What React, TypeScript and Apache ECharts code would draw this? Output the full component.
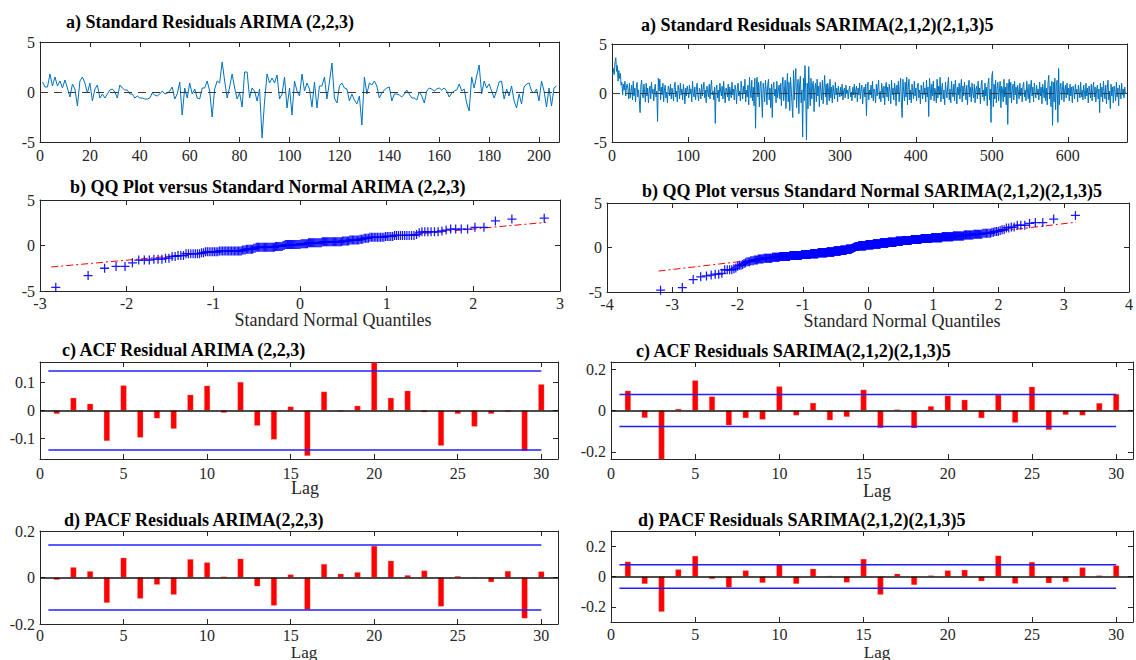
import React, { useEffect, useRef } from "react";
import * as echarts from "echarts";

// ---------- DATA ----------
const residArima = [
  1.0, 0.5, 0.5, 1.8, 0.6, 1.5, 0.6, 1.1, 0.4, 1.2,
  0.4, -0.5, 0.8, 0.3, -1.4, 1.1, 1.5, 0.9, -0.1, 0.9,
  -0.9, 0.3, 0.7, -0.6, -0.2, -0.6, -0.2, 0.2, 0.3, 0.0,
  -0.6, 0.7, 0.4, 0.2, 0.2, -0.2, -0.2, -0.6, -0.4, -0.6,
  -0.6, -0.7, -0.7, -0.6, -0.1, -0.3, -0.4, -0.2, 0.1, -0.2,
  -0.1, 0.1, 0.5, -0.7, -0.2, 1.0, -2.3, 0.4, -0.6, 0.9,
  -0.2, 0.3, -0.6, -0.7, 0.4, 0.4, 1.1, 0.1, -2.5, 0.3,
  1.1, 0.9, 3.0, 1.1, -0.6, 0.5, 1.8, 0.4, -0.7, -0.1,
  -1.5, 2.0, 2.0, -0.6, 0.4, 0.1, -0.9, 0.3, -4.6, -0.9,
  1.8, 0.9, 1.4, 0.9, 1.7, -0.7, -0.2, 1.5, -1.6, 0.4,
  -2.3, 1.1, 0.1, -0.4, 1.8, 0.1, 0.9, 0.3, -1.5, 1.0,
  -1.6, 0.6, 0.6, 1.5, -0.7, 1.0, 2.9, -0.6, -1.1, 0.6,
  0.9, 0.4, 0.3, -0.9, -0.2, -0.8, -1.2, -0.4, -3.3, 1.5,
  -0.2, 0.9, 0.7, 1.1, 0.6, -0.6, -0.1, 0.2, 0.4, 0.5,
  -0.9, -0.2, -0.2, -0.3, -0.5, -0.2, 0.2, -0.2, -0.6, -0.6,
  -0.8, 0.0, -0.4, -1.1, 0.1, 0.4, 0.3, 0.1, 0.3, 0.4,
  0.2, 0.4, 0.1, -0.5, -0.1, 0.1, 0.2, 0.8, 0.1, 0.3,
  -1.1, -1.9, 1.5, 0.4, 1.6, 2.7, -0.2, 1.1, 0.4, 0.8,
  0.1, -0.6, 0.1, 1.0, 1.1, -0.7, 0.3, -0.4, 0.6, -0.9,
  -1.6, -0.2, -1.2, 0.5, 0.8, 0.9, 0.1, -0.1, 0.3, -0.9,
  1.1, 0.1, -1.5, 0.4, -1.4, 0.4, 0.6,
];

const residSarima = [
  1.8, 2.5, 1.9, 3.2, 3.6, 2.2, 2.8, 1.2, 2.3, 1.5, 2.0, 0.8, 1.1, -0.2, 0.9, 0.3, 1.2, -0.3, 0.6, 0.9,
  0.4, -0.6, 1.0, -0.5, 0.2, 0.8, -0.7, 1.2, -0.3, 0.5, -0.9, 0.6, 1.1, -0.4, 0.3, -0.8, -2.0, 0.7, 1.3, -0.2,
  -0.5, 0.9, 0.1, -0.9, 1.0, -0.3, 0.5, -1.0, 0.2, 0.7, -0.6, 1.1, -0.1, 0.4, -0.8, 0.3, 0.9, -0.4, 0.2, -2.9,
  1.5, 0.2, 1.4, -0.7, 0.6, -0.2, 1.0, -0.9, 0.3, 0.8, -0.5, 0.1, -1.0, 0.7, 0.4, -0.3, 0.9, -0.6, 0.5, 0.0,
  -0.8, 0.6, 1.1, -0.4, 0.2, -0.9, 0.8, 0.3, -0.6, 1.0, -0.2, 0.4, -0.7, 0.9, 0.1, -1.1, 0.5, -0.3, 0.7, 0.2,
  -0.5, 0.8, -0.1, 0.4, -0.9, 1.2, 0.0, -0.4, 0.6, -0.7, 0.3, 1.0, -0.2, -0.8, 0.5, 0.2, -0.6, 0.9, -0.3, 0.4,
  1.1, -0.5, 0.3, -1.0, 0.7, 0.1, -0.4, 0.9, -0.6, 0.5, 1.3, -0.2, 0.2, -0.7, 0.6, -3.1, 0.4, 0.8, -0.5, 0.3,
  -0.9, 1.0, 0.2, -0.3, 0.7, -0.6, 1.2, 0.0, -1.0, 0.5, 0.3, -0.4, 0.9, -0.8, 0.6, 0.1, -0.5, 1.1, -0.2, 0.4,
  -0.7, 0.8, 0.3, -1.1, 0.5, 1.0, -0.3, 0.2, -0.8, 1.2, 0.4, -0.6, 0.7, -0.1, 1.4, -0.9, 0.3, -0.4, 0.8, -1.2,
  1.6, 0.2, -0.5, 1.3, -0.8, 0.6, -1.3, 1.5, -3.6, 0.9, 1.6, -0.4, 1.1, -1.4, 0.7, 1.2, -0.6, -2.5, 1.0, 0.3,
  -0.9, 1.3, 0.2, -1.2, 0.8, 1.4, -0.7, 0.5, -1.5, 0.9, -2.5, 0.6, 1.1, -0.3, 0.4, -1.0, 1.2, -0.5, 0.3, 0.8,
  -0.6, 1.0, -1.3, 0.7, 1.6, -0.8, 0.2, 1.3, -1.6, 0.5, 2.0, -0.9, 1.1, -1.8, 1.6, 0.4, -1.2, -2.5, 2.3, -0.7,
  1.2, 2.5, -1.5, 0.6, 1.4, -2.1, 0.9, 1.7, -1.0, 0.3, -4.5, 1.5, -0.8, 2.8, 0.4, -4.8, 1.0, -1.6, 2.7, 0.2,
  -1.3, 1.5, -0.6, 0.8, 1.2, -1.9, 0.4, 1.0, -0.9, 1.4, -0.3, 0.7, -1.4, 1.1, 0.2, -0.7, 1.3, -1.1, 0.5, 1.8,
  -0.4, 0.9, -1.2, 1.0, 0.3, -0.8, 1.4, -0.5, 0.6, -1.0, 0.8, 0.1, -0.6, 1.1, -0.2, 0.5, -0.9, 0.7, 0.0, -0.4,
  0.6, -0.3, 0.9, -0.7, 0.2, 0.5, -0.5, 0.8, -0.1, 0.3, -0.6, 0.4, 0.7, -0.4, 0.1, -0.8, 0.6, -0.2, 0.9, -0.5,
  0.3, 0.7, -0.9, 0.5, -0.2, 1.0, -0.6, 0.4, 0.8, -1.1, 0.2, 0.6, -0.4, 0.9, -2.3, 0.5, 1.1, -0.7, 0.3, -0.2,
  0.8, -0.5, 1.2, -0.8, 0.4, 0.1, -1.0, 0.9, -0.3, 0.6, 1.3, -0.6, 0.2, -0.9, 1.0, 0.3, -0.5, 0.7, -1.2, 0.5,
  1.1, -0.4, 0.6, -0.8, 0.9, 0.2, -1.1, 1.3, -0.2, 0.5, -0.7, 1.0, 0.4, -1.3, 0.8, -0.1, 1.2, -0.9, 0.3, 1.5,
  -1.0, -2.5, 1.4, 0.2, -0.8, 1.1, -0.4, 1.6, -1.2, 0.6, 1.4, -0.7, 0.3, -1.0, 0.9, 0.1, -0.6, 1.2, -0.3, 0.5,
  -0.8, 0.7, 1.0, -0.5, 0.3, -1.1, 0.8, 0.2, -0.6, 1.1, -0.2, 0.5, -0.9, 1.3, -0.4, 0.6, -2.4, 1.5, 0.4, -0.7,
  0.9, -0.3, 1.2, -0.8, 0.5, 0.1, -1.0, 1.4, -0.5, 0.7, -0.2, 1.6, -0.9, 0.4, 1.0, -0.6, 0.3, -1.2, 1.1, 0.2,
  -0.5, 0.8, 1.6, -0.7, 0.4, -1.0, 1.2, 0.1, -0.4, 0.9, -0.8, 1.3, 0.3, -1.1, 0.6, -0.2, 1.0, -0.6, 0.5, 1.4,
  -0.9, 0.7, -0.3, 1.1, 0.2, -0.7, 0.8, -1.2, 0.5, 1.3, -0.4, 0.6, -0.9, 1.0, 0.0, -0.5, 0.9, -1.0, 0.4, 0.7,
  -0.6, 1.2, -0.2, 0.5, -1.1, 0.8, 1.3, -0.4, 0.3, -0.8, 1.0, -0.3, 0.6, -1.3, 0.9, 1.5, -0.7, 0.4, -3.0, 1.7,
  2.2, -1.4, 0.9, -0.6, 1.3, -1.0, 0.5, 1.1, -0.8, 0.2, 1.2, -1.5, 0.7, 0.3, -0.9, 1.4, -0.4, 0.6, -1.2, 1.0,
  -3.2, 0.8, 1.4, -0.5, 1.1, -1.0, 0.4, 0.9, -0.7, 1.2, -0.2, 0.6, -1.1, 0.8, 0.1, -0.6, 1.0, -0.3, 0.5, -0.9,
  0.7, 1.1, -0.4, 0.3, -0.8, 1.2, 0.2, -0.6, 0.9, -1.0, 0.5, 1.3, -0.3, 0.6, -0.9, 1.0, 0.0, -0.5, 0.8, -0.2,
  0.4, -0.7, 1.1, -0.3, 0.6, -1.1, 0.9, 0.2, -0.5, 1.3, -0.8, 0.5, -1.2, 1.0, 1.8, -0.6, 0.7, -1.4, 1.2, -3.3,
  1.1, -0.9, 1.5, -1.7, 0.8, 1.3, -3.0, 2.5, -1.2, 0.6, 1.0, -0.7, 0.4, 1.2, -0.9, 0.3, 0.8, -0.5, 1.0, -0.2,
  0.5, -0.8, 0.9, -0.3, 0.6, -1.0, 0.7, 0.2, -0.6, 0.9, -0.1, 0.4, -0.9, 0.8, 0.1, -0.5, 1.1, -0.4, 0.3, -0.7,
  0.8, 0.0, -0.6, 1.0, -0.3, 0.5, -1.0, 0.7, 0.2, -0.5, 0.9, -0.8, 0.4, 1.1, -0.4, 0.6, -0.9, 0.3, 0.8, -0.6,
  0.4, -2.0, 1.0, -0.4, 0.6, -0.9, 1.2, 0.1, -0.6, 0.8, -1.1, 0.5, 1.3, -0.7, 0.2, -1.6, 0.9, -0.3, 0.6, -1.0,
  0.7, 0.2, -0.8, 1.1, -0.4, 0.5, -1.3, 0.8, 0.1, -0.6, 1.0, -0.2, 0.4, -0.5, 0.6, -0.1, 0.0,
];

const lags = [1, 2, 3, 4, 5, 6, 7, 8, 9, 10, 11, 12, 13, 14, 15, 16, 17, 18, 19, 20, 21, 22, 23, 24, 25, 26, 27, 28, 29, 30];

const acfArima = [
  -0.012, 0.045, 0.024, -0.108, 0.089, -0.096, -0.028, -0.065, 0.056, 0.088,
  -0.008, 0.101, -0.054, -0.103, 0.014, -0.161, 0.067, -0.004, 0.017, 0.17,
  0.045, 0.07, -0.006, -0.125, -0.012, -0.057, -0.012, -0.005, -0.144, 0.093,
];
const acfSarima = [
  0.096, -0.036, -0.24, 0.008, 0.146, 0.068, -0.072, -0.037, -0.044, 0.117,
  -0.024, 0.037, -0.047, -0.031, 0.101, -0.085, 0.005, -0.086, 0.021, 0.072,
  0.052, -0.037, 0.076, -0.059, 0.115, -0.094, -0.021, -0.024, 0.036, 0.08,
];
const pacfArima = [
  -0.01, 0.044, 0.027, -0.109, 0.085, -0.091, -0.031, -0.074, 0.079, 0.065,
  0.004, 0.081, -0.038, -0.121, 0.013, -0.139, 0.058, 0.016, 0.023, 0.136,
  0.072, 0.01, 0.03, -0.125, 0.006, 0.001, -0.02, 0.028, -0.176, 0.026,
];
const pacfSarima = [
  0.098, -0.049, -0.233, 0.047, 0.136, -0.016, -0.073, 0.04, -0.042, 0.078,
  -0.049, 0.051, 0.004, -0.04, 0.116, -0.12, 0.018, -0.056, 0.007, 0.04,
  0.044, -0.031, 0.138, -0.047, 0.096, -0.044, -0.036, 0.06, 0.007, 0.073,
];

const boundArima = 0.14;
const boundSarima = 0.077;
const boundSpan = [0.5, 30];

const qqLineArima = [[-2.87, -2.36], [2.84, 2.54]];
const qqLineSarima = [[-3.21, -2.65], [3.19, 2.84]];

const titles = [
  "a) Standard Residuals ARIMA (2,2,3)",
  "a) Standard Residuals SARIMA(2,1,2)(2,1,3)5",
  "b) QQ Plot versus Standard Normal ARIMA (2,2,3)",
  "b) QQ Plot versus Standard Normal SARIMA(2,1,2)(2,1,3)5",
  "c) ACF Residual ARIMA (2,2,3)",
  "c) ACF Residuals SARIMA(2,1,2)(2,1,3)5",
  "d) PACF Residuals ARIMA(2,2,3)",
  "d) PACF Residuals SARIMA(2,1,2)(2,1,3)5",
];

const ticksResidArima = [0, 20, 40, 60, 80, 100, 120, 140, 160, 180, 200];
const ticksResidSarima = [0, 100, 200, 300, 400, 500, 600];
const ticksQQArima = [-3, -2, -1, 0, 1, 2, 3];
const ticksQQSarima = [-4, -3, -2, -1, 0, 1, 2, 3, 4];
const ticksResidY = [-5, 0, 5];
const ticksLag = [0, 5, 10, 15, 20, 25, 30];
const ticksAcf1 = [-0.1, 0, 0.1];
const ticksAcf2 = [-0.2, 0, 0.2];

// ---------- HELPERS ----------
function norminv(p: number): number {
  const a = [-3.969683028665376e1, 2.209460984245205e2, -2.759285104469687e2, 1.38357751867269e2, -3.066479806614716e1, 2.506628277459239];
  const b = [-5.447609879822406e1, 1.615858368580409e2, -1.556989798598866e2, 6.680131188771972e1, -1.328068155288572e1];
  const c = [-7.784894002430293e-3, -3.223964580411365e-1, -2.400758277161838, -2.549732539343734, 4.374664141464968, 2.938163982698783];
  const d = [7.784695709041462e-3, 3.224671290700398e-1, 2.445134137142996, 3.754408661907416];
  const pl = 0.02425;
  if (p < pl) {
    const q = Math.sqrt(-2 * Math.log(p));
    return (((((c[0] * q + c[1]) * q + c[2]) * q + c[3]) * q + c[4]) * q + c[5]) / ((((d[0] * q + d[1]) * q + d[2]) * q + d[3]) * q + 1);
  }
  if (p <= 1 - pl) {
    const q = p - 0.5;
    const r = q * q;
    return ((((((a[0] * r + a[1]) * r + a[2]) * r + a[3]) * r + a[4]) * r + a[5]) * q) / (((((b[0] * r + b[1]) * r + b[2]) * r + b[3]) * r + b[4]) * r + 1);
  }
  const q = Math.sqrt(-2 * Math.log(1 - p));
  return -(((((c[0] * q + c[1]) * q + c[2]) * q + c[3]) * q + c[4]) * q + c[5]) / ((((d[0] * q + d[1]) * q + d[2]) * q + d[3]) * q + 1);
}

function qqPoints(values: number[]) {
  const s = [...values].sort((x, y) => x - y);
  const n = s.length;
  return s.map((v, i) => [norminv((i + 0.5) / n), v]);
}

const FONT = "'Liberation Serif', 'Times New Roman', serif";
const AX = "#262626";
const CROSS = "path://M4.3,0H5.7V4.3H10V5.7H5.7V10H4.3V5.7H0V4.3H4.3Z";

type Panel = {
  left: number; top: number; width: number; height: number;
  xMin: number; xMax: number; xTicks: number[];
  yMin: number; yMax: number; yTicks: number[];
  xMargin: number;
};

const panels: Panel[] = [
  { left: 40, top: 42, width: 519, height: 100, xMin: 0, xMax: 208, xTicks: ticksResidArima, yMin: -5, yMax: 5, yTicks: ticksResidY, xMargin: 5 },
  { left: 612, top: 44, width: 515, height: 98, xMin: 0, xMax: 678, xTicks: ticksResidSarima, yMin: -5, yMax: 5, yTicks: ticksResidY, xMargin: 5 },
  { left: 40, top: 200, width: 520, height: 91, xMin: -3, xMax: 3, xTicks: ticksQQArima, yMin: -5, yMax: 5, yTicks: ticksResidY, xMargin: 4 },
  { left: 607, top: 203, width: 525, height: 89, xMin: -4, xMax: 4, xTicks: ticksQQSarima, yMin: -5, yMax: 5, yTicks: ticksResidY, xMargin: 4 },
  { left: 40, top: 362, width: 518, height: 97, xMin: 0, xMax: 31, xTicks: ticksLag, yMin: -0.172, yMax: 0.172, yTicks: ticksAcf1, xMargin: 6 },
  { left: 611, top: 362, width: 522, height: 97, xMin: 0, xMax: 31, xTicks: ticksLag, yMin: -0.235, yMax: 0.235, yTicks: ticksAcf2, xMargin: 6 },
  { left: 40, top: 531, width: 518, height: 93, xMin: 0, xMax: 31, xTicks: ticksLag, yMin: -0.2, yMax: 0.2, yTicks: ticksAcf2, xMargin: 3 },
  { left: 611, top: 531, width: 522, height: 91, xMin: 0, xMax: 31, xTicks: ticksLag, yMin: -0.3, yMax: 0.3, yTicks: ticksAcf2, xMargin: 4 },
];

const titlePos = [
  [66, 21.5], [641, 25], [70, 187], [642, 191],
  [62, 350], [636, 351], [64, 520], [638, 520],
];

const axisNames: [string, number, number, number][] = [
  ["Standard Normal Quantiles", 333, 320, 18],
  ["Standard Normal Quantiles", 902, 321, 18],
  ["Lag", 305, 488, 18],
  ["Lag", 877, 491, 18],
  ["Lag", 304, 652, 17],
  ["Lag", 877, 652, 17],
];

function buildOption() {
  const grid: any[] = [];
  const xAxis: any[] = [];
  const yAxis: any[] = [];
  const series: any[] = [];

  panels.forEach((p, gi) => {
    grid.push({ left: p.left, top: p.top, width: p.width, height: p.height, containLabel: false, show: false });
    const axLine = { show: true, onZero: false, lineStyle: { color: AX, width: 1 } };
    xAxis.push({
      type: "value", gridIndex: gi, position: "bottom", min: p.xMin, max: p.xMax,
      splitLine: { show: false }, axisLine: axLine,
      axisTick: { show: true, inside: true, length: 5, customValues: p.xTicks, lineStyle: { color: AX } },
      axisLabel: { show: true, customValues: p.xTicks, margin: p.xMargin, fontSize: 16, fontFamily: FONT, color: AX, formatter: (v: number) => String(v) },
    });
    xAxis.push({
      type: "value", gridIndex: gi, position: "top", min: p.xMin, max: p.xMax,
      splitLine: { show: false }, axisLine: axLine,
      axisTick: { show: true, inside: true, length: 5, customValues: p.xTicks, lineStyle: { color: AX } },
      axisLabel: { show: false },
    });
    yAxis.push({
      type: "value", gridIndex: gi, position: "left", min: p.yMin, max: p.yMax,
      splitLine: { show: false }, axisLine: axLine,
      axisTick: { show: true, inside: true, length: 5, customValues: p.yTicks, lineStyle: { color: AX } },
      axisLabel: { show: true, customValues: p.yTicks, margin: 5, fontSize: 16, fontFamily: FONT, color: AX, formatter: (v: number) => String(Math.round(v * 1000) / 1000) },
    });
    yAxis.push({
      type: "value", gridIndex: gi, position: "right", min: p.yMin, max: p.yMax,
      splitLine: { show: false }, axisLine: axLine,
      axisTick: { show: true, inside: true, length: 5, customValues: p.yTicks, lineStyle: { color: AX } },
      axisLabel: { show: false },
    });
  });

  const ax = (gi: number) => ({ xAxisIndex: gi * 2, yAxisIndex: gi * 2 });

  // residual lines
  [residArima, residSarima].forEach((arr, gi) => {
    series.push({
      type: "line", ...ax(gi), data: arr.map((v, i) => [i + 1, v]), showSymbol: false, silent: true,
      lineStyle: { color: "#0072BD", width: 1 },
      markLine: {
        silent: true, symbol: "none", label: { show: false },
        data: [{ yAxis: 0 }],
        lineStyle: { color: "#3a3a3a", width: 1, type: [8, 6] },
      },
      z: 3,
    });
  });

  // QQ plots
  [
    [residArima, qqLineArima],
    [residSarima, qqLineSarima],
  ].forEach(([vals, line], k) => {
    const gi = 2 + k;
    series.push({
      type: "line", ...ax(gi), data: line as number[][], showSymbol: false, silent: true,
      lineStyle: { color: "#ff0000", width: 1, type: [7, 3, 2, 3] }, z: 2,
    });
    series.push({
      type: "scatter", ...ax(gi), data: qqPoints(vals as number[]), symbol: CROSS, symbolSize: 9, silent: true,
      itemStyle: { color: "#0000ff", opacity: 0.9 }, z: 3,
    });
  });

  // ACF / PACF
  [
    [acfArima, boundArima],
    [acfSarima, boundSarima],
    [pacfArima, boundArima],
    [pacfSarima, boundSarima],
  ].forEach(([vals, b], k) => {
    const gi = 4 + k;
    const bound = b as number;
    series.push({
      type: "bar", ...ax(gi), data: lags.map((l, i) => [l, (vals as number[])[i]]), barWidth: 6, clip: true, silent: true,
      itemStyle: { color: "#ff0000", borderColor: "rgba(255,120,120,0.6)", borderWidth: 0.5 },
      markLine: {
        silent: true, symbol: "none", label: { show: false },
        data: [{ yAxis: 0 }],
        lineStyle: { color: "#111", width: 1.5, type: "solid" },
      },
      z: 2,
    });
    [bound, -bound].forEach((bv) => {
      series.push({
        type: "line", ...ax(gi), data: boundSpan.map((x) => [x, bv]), showSymbol: false, silent: true,
        lineStyle: { color: "#2020ff", width: 1.5 }, z: 4,
      });
    });
  });

  const graphic: any[] = [];
  titles.forEach((t, i) => {
    graphic.push({
      type: "text", x: titlePos[i][0], y: titlePos[i][1], silent: true,
      style: { text: t, font: `bold 18px ${FONT}`, fill: "#000", align: "left", verticalAlign: "middle", textAlign: "left", textVerticalAlign: "middle" },
    });
  });
  axisNames.forEach(([t, x, y, fs]) => {
    graphic.push({
      type: "text", x, y, silent: true,
      style: { text: t, font: `${fs}px ${FONT}`, fill: AX, align: "center", verticalAlign: "middle", textAlign: "center", textVerticalAlign: "middle" },
    });
  });

  return { animation: false, backgroundColor: "#ffffff", grid, xAxis, yAxis, series, graphic };
}

export default function App() {
  const ref = useRef<HTMLDivElement>(null);
  useEffect(() => {
    if (!ref.current) return;
    const chart = echarts.init(ref.current, undefined, { renderer: "svg" });
    chart.setOption(buildOption() as any);
    return () => chart.dispose();
  }, []);
  return <div ref={ref} style={{ position: "fixed", left: 0, top: 0, width: 1136, height: 660, background: "#fff" }} />;
}
